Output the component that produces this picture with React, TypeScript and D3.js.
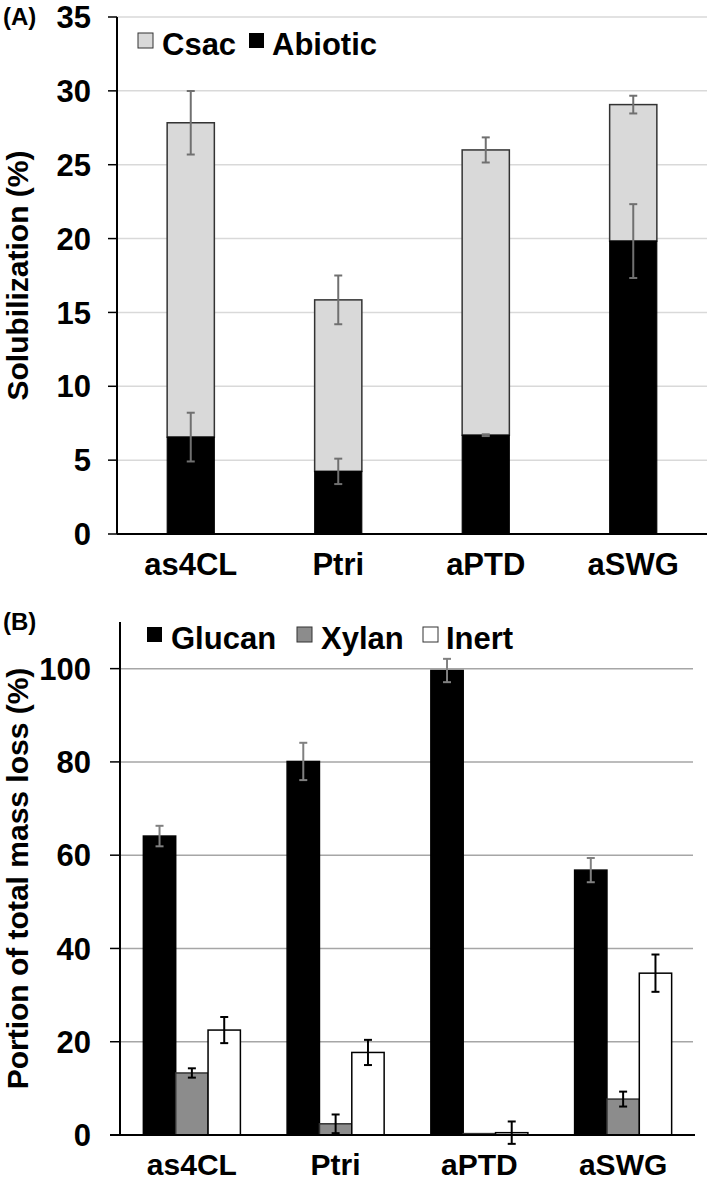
import * as d3 from "d3";
import React from "react";

// panel A: solubilization (stacked)
const catsA = ["as4CL", "Ptri", "aPTD", "aSWG"];
const abiotic = [6.56, 4.24, 6.69, 19.83];
const abioticErr = [1.65, 0.86, 0.06, 2.5];
const csac = [21.28, 11.61, 19.31, 9.24];
const totalErr = [2.15, 1.65, 0.85, 0.6];
const ticksA = [0, 5, 10, 15, 20, 25, 30, 35];

// panel B: portion of total mass loss
const catsB = ["as4CL", "Ptri", "aPTD", "aSWG"];
const seriesB = ["Glucan", "Xylan", "Inert"];
const glucan = [64.1, 80.1, 99.6, 56.8];
const glucanErr = [2.2, 4.0, 2.5, 2.6];
const xylan = [13.3, 2.4, 0.3, 7.7];
const xylanErr = [1.0, 2.0, 0, 1.6];
const inert = [22.5, 17.7, 0.5, 34.7];
const inertErr = [2.8, 2.7, 2.4, 4.0];
const ticksB = [0, 20, 40, 60, 80, 100];

const FONT = "'Liberation Sans', Arial, sans-serif";

function ErrBar({ x, y0, y1, color, w = 2 }: any) {
  const c = 4;
  return (
    <g stroke={color} strokeWidth={w}>
      <line x1={x} x2={x} y1={y0} y2={y1} />
      <line x1={x - c} x2={x + c} y1={y0} y2={y0} />
      <line x1={x - c} x2={x + c} y1={y1} y2={y1} />
    </g>
  );
}

function PanelA() {
  const x = d3.scaleBand().domain(catsA).range([117, 707]).paddingInner(0.68).paddingOuter(0.34);
  const y = d3.scaleLinear().domain([0, 35]).range([534, 17]);
  const bw = x.bandwidth();
  return (
    <g>
      <text x={3} y={25} fontSize={24} fontWeight="bold" fontFamily={FONT}>(A)</text>
      {ticksA.map((t) => (
        <g key={t}>
          {t > 0 && <line x1={117} x2={707} y1={y(t)} y2={y(t)} stroke="#d9d9d9" strokeWidth={1.5} />}
          <line x1={108} x2={117} y1={y(t)} y2={y(t)} stroke="#000" strokeWidth={1.5} />
          <text x={91} y={y(t)} dy="0.36em" textAnchor="end" fontSize={31} fontWeight="bold" fontFamily={FONT}>{t}</text>
        </g>
      ))}
      <line x1={117} x2={117} y1={y(35)} y2={y(0)} stroke="#000" strokeWidth={2} />
      {catsA.map((c, i) => {
        const x0 = x(c)!;
        const cx = x0 + bw / 2;
        const tot = abiotic[i] + csac[i];
        return (
          <g key={c}>
            <rect x={x0} width={bw} y={y(tot)} height={y(abiotic[i]) - y(tot)} fill="#d9d9d9" stroke="#333" strokeWidth={1.5} />
            <rect x={x0} width={bw} y={y(abiotic[i])} height={y(0) - y(abiotic[i])} fill="#000" stroke="#000" strokeWidth={1} />
            <ErrBar x={cx} y0={y(tot + totalErr[i])} y1={y(tot - totalErr[i])} color="#707070" />
            <ErrBar x={cx} y0={y(abiotic[i] + abioticErr[i])} y1={y(abiotic[i] - abioticErr[i])} color="#707070" />
            <text x={cx} y={y(0) + 41} textAnchor="middle" fontSize={31} fontWeight="bold" fontFamily={FONT}>{c}</text>
          </g>
        );
      })}
      <line x1={117} x2={707} y1={y(0)} y2={y(0)} stroke="#000" strokeWidth={2} />
      <g fontSize={31} fontWeight="bold" fontFamily={FONT}>
        <rect x={138} y={33} width={15} height={15} fill="#d9d9d9" stroke="#333" strokeWidth={1} />
        <text x={162} y={55}>Csac</text>
        <rect x={249} y={33} width={15} height={15} fill="#000" />
        <text x={272} y={55}>Abiotic</text>
      </g>
      <text transform={`translate(28,${(y(0) + y(35)) / 2}) rotate(-90)`} textAnchor="middle" fontSize={30} fontWeight="bold" fontFamily={FONT}>Solubilization (%)</text>
    </g>
  );
}

function PanelB() {
  const x = d3.scaleBand().domain(catsB).range([120, 695]).paddingInner(0.325).paddingOuter(0.1625);
  const xs = d3.scaleBand().domain(seriesB).range([0, x.bandwidth()]);
  const y = d3.scaleLinear().domain([0, 110]).range([1135, 622]);
  const vals = [glucan, xylan, inert];
  const errs = [glucanErr, xylanErr, inertErr];
  const fills = ["#000", "#8c8c8c", "#fff"];
  const strokes = ["#000", "#333", "#000"];
  const errColors = ["#808080", "#000", "#000"];
  return (
    <g>
      <text x={3} y={630} fontSize={24} fontWeight="bold" fontFamily={FONT}>(B)</text>
      {ticksB.map((t) => (
        <g key={t}>
          {t > 0 && <line x1={120} x2={693} y1={y(t)} y2={y(t)} stroke="#a6a6a6" strokeWidth={1.5} />}
          <line x1={110} x2={120} y1={y(t)} y2={y(t)} stroke="#000" strokeWidth={1.5} />
          <text x={91} y={y(t)} dy="0.36em" textAnchor="end" fontSize={31} fontWeight="bold" fontFamily={FONT}>{t}</text>
        </g>
      ))}
      <line x1={120} x2={120} y1={y(110)} y2={y(0)} stroke="#000" strokeWidth={2} />
      {catsB.map((c, i) => (
        <g key={c}>
          {seriesB.map((s, j) => {
            const bx = x(c)! + xs(s)!;
            const v = vals[j][i];
            return (
              <rect key={s} x={bx} width={xs.bandwidth()} y={y(v)} height={y(0) - y(v)} fill={fills[j]} stroke={strokes[j]} strokeWidth={1.5} />
            );
          })}
          {seriesB.map((s, j) => {
            const e = errs[j][i];
            if (!e) return null;
            const cx = x(c)! + xs(s)! + xs.bandwidth() / 2;
            const v = vals[j][i];
            return <ErrBar key={s} x={cx} y0={y(v + e)} y1={y(v - e)} color={errColors[j]} />;
          })}
          <text x={x(c)! + x.bandwidth() / 2} y={y(0) + 40} textAnchor="middle" fontSize={30} fontWeight="bold" fontFamily={FONT}>{c}</text>
        </g>
      ))}
      <line x1={110} x2={695} y1={y(0)} y2={y(0)} stroke="#000" strokeWidth={2} />
      <g fontSize={31} fontWeight="bold" fontFamily={FONT}>
        <rect x={147} y={627} width={15} height={15} fill="#000" />
        <text x={171} y={649}>Glucan</text>
        <rect x={297} y={627} width={15} height={15} fill="#8c8c8c" stroke="#333" strokeWidth={1} />
        <text x={321} y={649}>Xylan</text>
        <rect x={423} y={627} width={15} height={15} fill="#fff" stroke="#333" strokeWidth={1} />
        <text x={446} y={649}>Inert</text>
      </g>
      <text transform={`translate(28,${(y(0) + y(110)) / 2}) rotate(-90)`} textAnchor="middle" fontSize={30} fontWeight="bold" fontFamily={FONT}>Portion of total mass loss (%)</text>
    </g>
  );
}

export default function App() {
  return (
    <svg width={709} height={1182} style={{ position: "absolute", left: 0, top: 0, background: "#fff" }}>
      <PanelA />
      <PanelB />
    </svg>
  );
}
